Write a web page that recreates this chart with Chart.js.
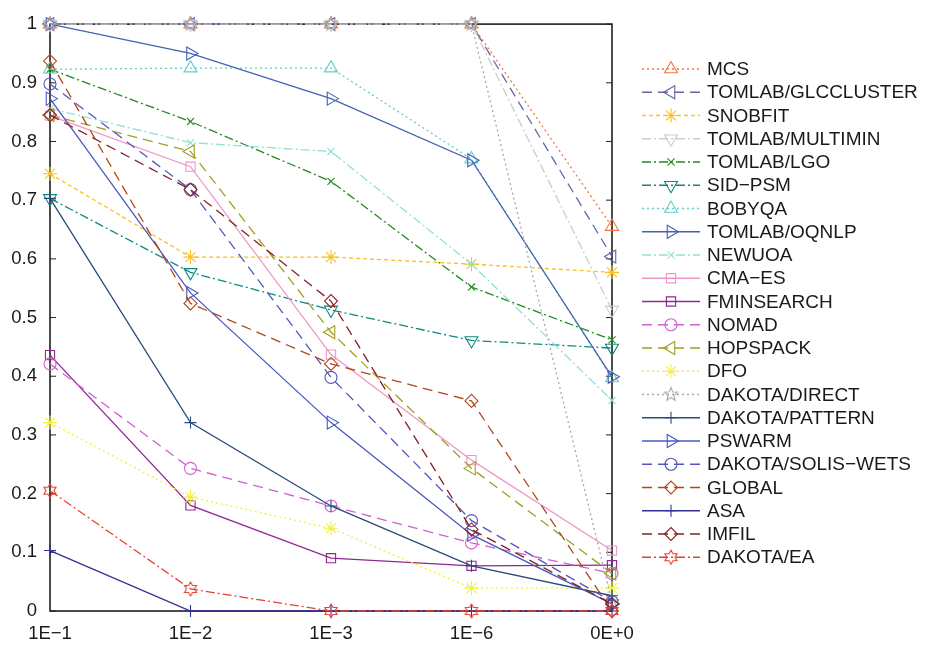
<!DOCTYPE html>
<html>
<head>
<meta charset="utf-8">
<script src="https://cdn.jsdelivr.net/npm/chart.js@4.4.1/dist/chart.umd.min.js"></script>
<style>
  html, body { margin: 0; padding: 0; background: #fff; }
  #wrap { width: 927px; height: 647px; }
</style>
</head>
<body>
<div id="wrap"><canvas id="chart" width="927" height="647"></canvas></div>
<script>
// categories and tick labels
const categories = ['1E\u22121', '1E\u22122', '1E\u22123', '1E\u22126', '0E+0'];
const yTickLabels = ['0', '0.1', '0.2', '0.3', '0.4', '0.5', '0.6', '0.7', '0.8', '0.9', '1'];

// series values
const mcs        = [1, 1, 1, 1, 0.655];
const glccluster = [1, 1, 1, 1, 0.604];
const snobfit    = [0.745, 0.603, 0.603, 0.591, 0.577];
const multimin   = [1, 1, 1, 1, 0.513];
const lgo        = [0.923, 0.834, 0.732, 0.552, 0.462];
const sidpsm     = [0.703, 0.577, 0.513, 0.461, 0.448];
const bobyqa     = [0.923, 0.925, 0.925, 0.770, 0.397];
const oqnlp      = [1, 0.950, 0.873, 0.768, 0.399];
const newuoa     = [0.856, 0.798, 0.783, 0.591, 0.359];
const cmaes      = [0.844, 0.757, 0.437, 0.257, 0.103];
const fminsearch = [0.436, 0.180, 0.090, 0.077, 0.078];
const nomad      = [0.421, 0.243, 0.179, 0.116, 0.064];
const hopspack   = [0.845, 0.783, 0.475, 0.243, 0.064];
const dfo        = [0.321, 0.194, 0.141, 0.039, 0.039];
const direct     = [1, 1, 1, 1, 0.015];
const pattern    = [0.703, 0.321, 0.179, 0.077, 0.026];
const pswarm     = [0.873, 0.542, 0.321, 0.130, 0.012];
const soliswets  = [0.898, 0.718, 0.398, 0.154, 0.016];
const globalOpt  = [0.937, 0.524, 0.421, 0.358, 0.0];
const asa        = [0.103, 0, 0, 0, 0];
const imfil      = [0.845, 0.718, 0.528, 0.139, 0.012];
const dakotaEa   = [0.205, 0.0375, 0, 0, 0];

const DOT = [2, 3];
const DASH = [10, 6];
const DASHDOT = [9, 3, 2, 3];
const SOLID = [];

// outlined star markers drawn into small canvases
function starMarker(color, points, outer, inner) {
  const s = Math.ceil(outer * 2 + 4);
  const c = document.createElement('canvas');
  c.width = s; c.height = s;
  const g = c.getContext('2d');
  g.strokeStyle = color;
  g.lineWidth = 1.1;
  g.beginPath();
  for (let i = 0; i < points * 2; i++) {
    const r = i % 2 === 0 ? outer : inner;
    const a = -Math.PI / 2 + i * Math.PI / points;
    const px = s / 2 + r * Math.cos(a), py = s / 2 + r * Math.sin(a);
    if (i === 0) g.moveTo(px, py); else g.lineTo(px, py);
  }
  g.closePath();
  g.stroke();
  return c;
}

function series(label, data, color, dash, style, rotation, radius) {
  return {
    label: label,
    data: data,
    borderColor: color,
    borderWidth: 1.3,
    borderDash: dash,
    pointStyle: style,
    pointRotation: rotation || 0,
    pointRadius: radius || 6,
    pointBorderColor: color,
    pointBackgroundColor: 'rgba(0,0,0,0)',
    pointBorderWidth: 1.1,
    tension: 0,
    fill: false,
    clip: false
  };
}

const datasets = [
  series('MCS', mcs, '#f07840', DOT, 'triangle', 0, 7.5),
  series('TOMLAB/GLCCLUSTER', glccluster, '#6666a6', DASH, 'triangle', -90, 7.5),
  series('SNOBFIT', snobfit, '#f8c020', [4, 3], 'star', 0, 7),
  series('TOMLAB/MULTIMIN', multimin, '#cccccc', DASHDOT, 'triangle', 180, 7.5),
  series('TOMLAB/LGO', lgo, '#208a20', DASHDOT, 'crossRot', 0, 5),
  series('SID\u2212PSM', sidpsm, '#108880', DASHDOT, 'triangle', 180, 7.5),
  series('BOBYQA', bobyqa, '#66cccc', DOT, 'triangle', 0, 7.5),
  series('TOMLAB/OQNLP', oqnlp, '#4462b4', SOLID, 'triangle', 90, 7.5),
  series('NEWUOA', newuoa, '#94e0d6', DASHDOT, 'crossRot', 0, 5),
  series('CMA\u2212ES', cmaes, '#f096c6', SOLID, 'rect', 0, 6.5),
  series('FMINSEARCH', fminsearch, '#902890', SOLID, 'rect', 0, 6.5),
  series('NOMAD', nomad, '#d060d0', DASH, 'circle', 0, 6),
  series('HOPSPACK', hopspack, '#a0a020', DASH, 'triangle', -90, 7.5),
  series('DFO', dfo, '#f0f040', DOT, 'star', 0, 7),
  series('DAKOTA/DIRECT', direct, '#a8a8a8', DOT, starMarker('#a8a8a8', 5, 7, 3), 0, 7),
  series('DAKOTA/PATTERN', pattern, '#2a4a7c', SOLID, 'cross', 0, 6),
  series('PSWARM', pswarm, '#4858c0', SOLID, 'triangle', 90, 7.5),
  series('DAKOTA/SOLIS\u2212WETS', soliswets, '#5656c0', DASH, 'circle', 0, 6),
  series('GLOBAL', globalOpt, '#b04818', DASH, 'rectRot', 0, 6.5),
  series('ASA', asa, '#303098', SOLID, 'cross', 0, 6),
  series('IMFIL', imfil, '#882222', DASH, 'rectRot', 0, 6.5),
  series('DAKOTA/EA', dakotaEa, '#e84030', DASHDOT, starMarker('#e84030', 6, 7, 4), 0, 7)
];
// later series drawn on top, as in the original
datasets.forEach((d, i) => { d.order = datasets.length - i; });

const FONT = '"Liberation Sans", Arial, Helvetica, sans-serif';

const frame = {
  id: 'frame',
  beforeDatasetsDraw(chart) {
    const { ctx, chartArea: a, scales } = chart;
    ctx.save();
    ctx.strokeStyle = '#111';
    ctx.lineWidth = 1.5;
    ctx.strokeRect(a.left, a.top, a.right - a.left, a.bottom - a.top);
    ctx.lineWidth = 1;
    ctx.strokeStyle = '#222';
    for (let i = 0; i < yTickLabels.length; i++) {
      const y = scales.y.getPixelForValue(parseFloat(yTickLabels[i]));
      ctx.beginPath();
      ctx.moveTo(a.left, y); ctx.lineTo(a.left + 6, y);
      ctx.moveTo(a.right, y); ctx.lineTo(a.right - 6, y);
      ctx.stroke();
    }
    ctx.restore();
  }
};

const sideLegend = {
  id: 'sideLegend',
  afterDraw(chart) {
    const ctx = chart.ctx;
    const x0 = 642, x1 = 700, xm = 671, xt = 707;
    const top = 69, step = 23.25;
    ctx.save();
    ctx.font = '19px ' + FONT;
    ctx.textBaseline = 'middle';
    chart.data.datasets.forEach((d, i) => {
      const y = top + i * step;
      ctx.strokeStyle = d.borderColor;
      ctx.lineWidth = 1.3;
      ctx.setLineDash(d.borderDash);
      ctx.beginPath();
      ctx.moveTo(x0, y); ctx.lineTo(x1, y);
      ctx.stroke();
      ctx.setLineDash([]);
      ctx.lineWidth = 1.1;
      ctx.fillStyle = 'rgba(0,0,0,0)';
      Chart.helpers.drawPoint(ctx, {
        pointStyle: d.pointStyle,
        rotation: d.pointRotation,
        radius: d.pointRadius,
        borderWidth: 1
      }, xm, y);
      ctx.fillStyle = '#1a1a1a';
      ctx.fillText(d.label, xt, y + 1);
    });
    ctx.restore();
  }
};

new Chart(document.getElementById('chart'), {
  type: 'line',
  data: { labels: categories, datasets: datasets },
  options: {
    responsive: false,
    devicePixelRatio: 1,
    animation: false,
    layout: { padding: { left: 0, right: 315, top: 14, bottom: 0 } },
    plugins: { legend: { display: false }, tooltip: { enabled: false } },
    scales: {
      x: {
        offset: false,
        grid: { display: false, drawTicks: false },
        border: { display: false },
        ticks: {
          autoSkip: false, maxRotation: 0, padding: 12,
          color: '#1a1a1a', font: { family: FONT, size: 18.5 }
        },
        afterFit(scale) { scale.height = 36; }
      },
      y: {
        min: 0, max: 1,
        grid: { display: false, drawTicks: false },
        border: { display: false },
        ticks: {
          stepSize: 0.1, padding: 13,
          color: '#1a1a1a', font: { family: FONT, size: 18.5 },
          callback: (v, i) => yTickLabels[i]
        },
        afterFit(scale) { scale.width = 50; }
      }
    }
  },
  plugins: [frame, sideLegend]
});
</script>
</body>
</html>
